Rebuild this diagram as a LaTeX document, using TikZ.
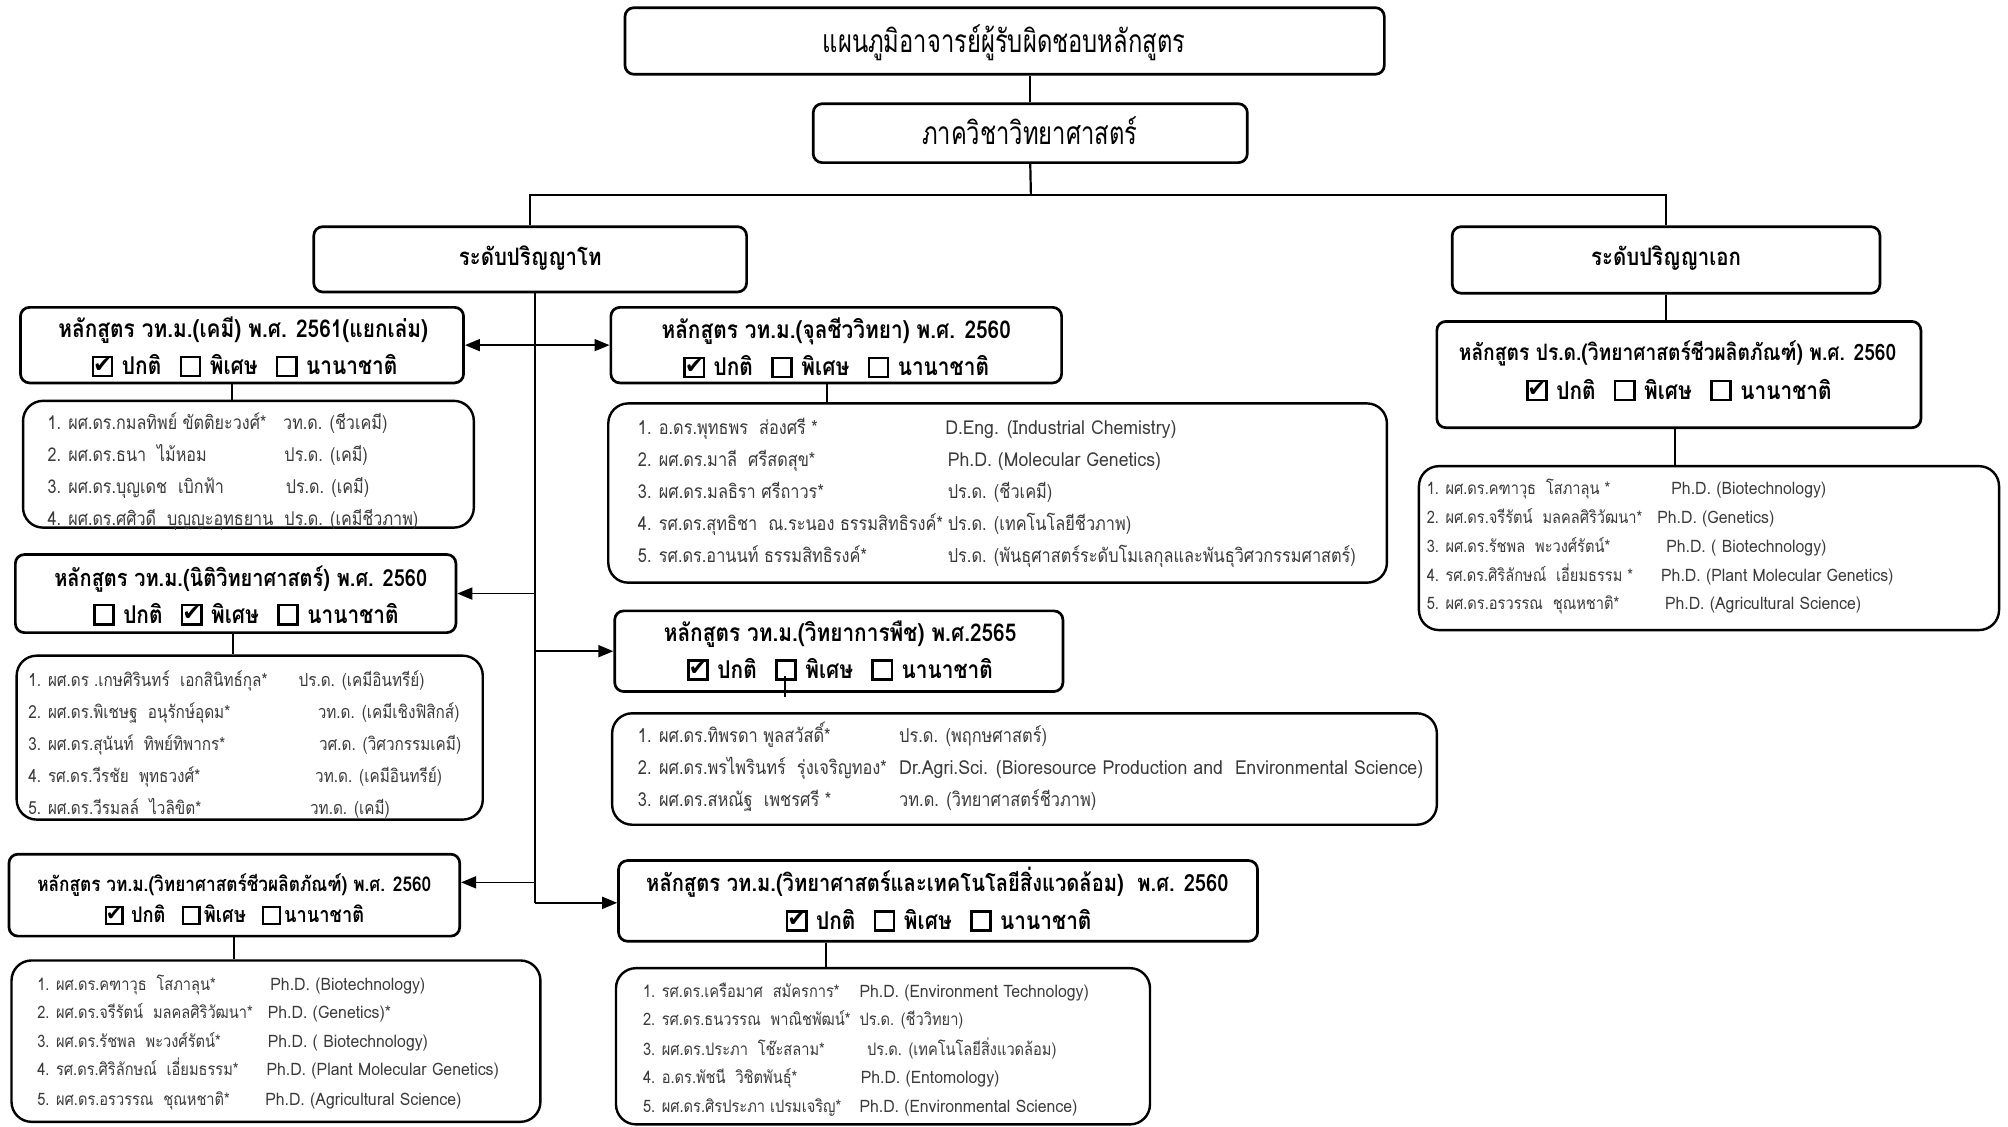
\documentclass[tikz,border=0pt]{standalone}
\usepackage{fontspec}
\usepackage{graphicx}
\usetikzlibrary{arrows.meta,fit}
\newfontfamily\thaiS[Script=Thai,FakeStretch=0.85]{Loma}
\newfontfamily\thaiT[Script=Thai,FakeStretch=0.75]{Loma}
\newfontfamily\latS[FakeStretch=0.92]{Loma}
\newfontfamily\symf{DejaVu Sans}
\definecolor{stf}{HTML}{3A3A3A}
\newcommand\boxsq{{\setlength\fboxrule{0.1em}\setlength\fboxsep{0pt}\fbox{\rule{0pt}{0.68em}\rule{0.68em}{0pt}}}}
\newcommand\cboff{\boxsq}
\newcommand\cbon{\rlap{\boxsq}\makebox[0.88em][c]{\raisebox{0.1em}{\symf\scalebox{0.92}{✔}}}}
\newcommand\fsTitle{\thaiT\fontsize{31.7}{34}\selectfont}
\newcommand\fsLevel{\thaiS\bfseries\fontsize{24}{28}\selectfont}
\newcommand\fsC[1]{\thaiS\bfseries\fontsize{#1}{#1}\selectfont}
\newcommand\fsS[1]{\thaiS\fontsize{#1}{#1}\selectfont}
\newcommand\csp{\hspace{0.35em}}
\newcommand\gap{\hspace{0.75em}}
\begin{document}
\begin{tikzpicture}[x=1.2806pt,y=-1.2806pt,
  cbox/.style={draw, line width=2.7pt, rounded corners=9pt, inner sep=0pt},
  sbox/.style={draw, line width=2.4pt, rounded corners=20pt, inner sep=0pt},
  conn/.style={line width=2.2pt},
  arr/.style={line width=1.7pt, -{Triangle[length=15pt,width=12pt]}},
  tx/.style={inner sep=0pt, text height=#1, text depth=0pt},
  tx/.default=18.4pt,
  st/.style={inner sep=0pt, text height=#1, text depth=0pt, anchor=west, text=stf},
  st/.default=14.4pt]
\useasboundingbox (0,0) rectangle (1568,879.3);

% top levels
\node[cbox, fit={(488,6)(1081,58)}] (title) {};
\node[tx=23.4pt, font=\fsTitle] (titleT) at (784,32) {แผนภูมิอาจารย์ผู้รับผิดชอบหลักสูตร};
\node[cbox, fit={(635,81)(974,127)}] (dept) {};
\node[tx=23.4pt, font=\fsTitle] (deptT) at (804,104) {ภาควิชาวิทยาศาสตร์};
\node[cbox, fit={(245,177)(583,228)}] (master) {};
\node[tx=17.8pt, font=\fsLevel] (masterT) at (414,200) {ระดับปริญญาโท};
\node[cbox, fit={(1134,177)(1468,229)}] (doctor) {};
\node[tx=17.8pt, font=\fsLevel] (doctorT) at (1301,200) {ระดับปริญญาเอก};

% course boxes
\node[cbox, fit={(16,240)(362,299)}] (L1) {};
\node[tx, font={\fsC{24.5}}] (L1t) at (190,256) {หลักสูตร วท.ม.(เคมี) พ.ศ. 2561(แยกเล่ม)};
\node[tx=19.4pt, font={\fsC{24.5}}] (L1c) at (191,285) {\cbon\csp ปกติ\gap\cboff\csp พิเศษ\gap\cboff\csp นานาชาติ};

\node[cbox, fit={(477,240)(829,299)}] (M1) {};
\node[tx, font={\fsC{24.5}}] (M1t) at (653,257) {หลักสูตร วท.ม.(จุลชีววิทยา) พ.ศ. 2560};
\node[tx=19.4pt, font={\fsC{24.5}}] (M1c) at (653,286) {\cbon\csp ปกติ\gap\cboff\csp พิเศษ\gap\cboff\csp นานาชาติ};

\node[cbox, fit={(12,433)(356,494)}] (L2) {};
\node[tx, font={\fsC{23.5}}] (L2t) at (188,451) {หลักสูตร วท.ม.(นิติวิทยาศาสตร์) พ.ศ. 2560};
\node[tx=19.4pt, font={\fsC{24.5}}] (L2c) at (192,479) {\cboff\csp ปกติ\gap\cbon\csp พิเศษ\gap\cboff\csp นานาชาติ};

\node[cbox, fit={(480,477)(830,540)}] (M2) {};
\node[tx, font={\fsC{24.5}}] (M2t) at (656,494) {หลักสูตร วท.ม.(วิทยาการพืช) พ.ศ.2565};
\node[tx=19.4pt, font={\fsC{24.5}}] (M2c) at (656,522) {\cbon\csp ปกติ\gap\cboff\csp พิเศษ\gap\cboff\csp นานาชาติ};

\node[cbox, fit={(7,667)(359,731)}] (L3) {};
\node[tx=15.2pt, font={\fsC{20.3}}] (L3t) at (183,690) {หลักสูตร วท.ม.(วิทยาศาสตร์ชีวผลิตภัณฑ์) พ.ศ. 2560};
\node[tx=17pt, font={\fsC{21.5}}] (L3c) at (183,714) {\cbon\csp ปกติ\gap\cboff\hspace{0.15em}พิเศษ\gap\cboff\hspace{0.15em}นานาชาติ};

\node[cbox, fit={(483,672)(982,735)}] (M3) {};
\node[tx, font={\fsC{23.7}}] (M3t) at (732,689) {หลักสูตร วท.ม.(วิทยาศาสตร์และเทคโนโลยีสิ่งแวดล้อม)\ \ พ.ศ. 2560};
\node[tx=19.4pt, font={\fsC{24.5}}] (M3c) at (733,718) {\cbon\csp ปกติ\gap\cboff\csp พิเศษ\gap\cboff\csp นานาชาติ};

\node[cbox, fit={(1122,251)(1500,334)}] (D1) {};
\node[tx=17pt, font={\fsC{22.6}}] (D1t) at (1310,275) {หลักสูตร ปร.ด.(วิทยาศาสตร์ชีวผลิตภัณฑ์) พ.ศ. 2560};
\node[tx=19.4pt, font={\fsC{24.5}}] (D1c) at (1311,304) {\cbon\csp ปกติ\gap\cboff\csp พิเศษ\gap\cboff\csp นานาชาติ};

% staff boxes
\node[sbox, fit={(18,313)(370,412)}] (L1s) {};
\node[st, font={\fsS{19}}] (L1a1) at (37,330) {1. ผศ.ดร.กมลทิพย์ ขัตติยะวงศ์*};
\node[st, font={\fsS{19}}] (L1b1) at (221,330) {วท.ด. (ชีวเคมี)};
\node[st, font={\fsS{19}}] (L1a2) at (37,355) {2. ผศ.ดร.ธนา\ \ ไม้หอม};
\node[st, font={\fsS{19}}] (L1b2) at (222,355) {ปร.ด. (เคมี)};
\node[st, font={\fsS{19}}] (L1a3) at (37,380) {3. ผศ.ดร.บุญเดช\ \ เบิกฟ้า};
\node[st, font={\fsS{19}}] (L1b3) at (223,380) {ปร.ด. (เคมี)};
\node[st, font={\fsS{19}}] (L1a4) at (37,405) {4. ผศ.ดร.ศศิวดี\ \ บุญญะอุทธยาน};
\node[st, font={\fsS{19}}] (L1b4) at (222,405) {ปร.ด. (เคมีชีวภาพ)};

\node[sbox, fit={(475,315)(1083,455)}] (M1s) {};
\node[st, font={\fsS{19.2}}] (M1a1) at (498,334) {1. อ.ดร.พุทธพร\ \ ส่องศรี *};
\node[st, font={\fsS{19.2}}] (M1b1) at (738,334) {\latS D.Eng. (Industrial Chemistry)};
\node[st, font={\fsS{19.2}}] (M1a2) at (498,359) {2. ผศ.ดร.มาลี\ \ ศรีสดสุข*};
\node[st, font={\fsS{19.2}}] (M1b2) at (740,359) {\latS Ph.D. (Molecular Genetics)};
\node[st, font={\fsS{19.2}}] (M1a3) at (498,384) {3. ผศ.ดร.มลธิรา ศรีถาวร*};
\node[st, font={\fsS{19.2}}] (M1b3) at (740,384) {ปร.ด. (ชีวเคมี)};
\node[st, font={\fsS{19.2}}] (M1a4) at (498,409) {4. รศ.ดร.สุทธิชา\ \ ณ.ระนอง ธรรมสิทธิรงค์*};
\node[st, font={\fsS{19.2}}] (M1b4) at (740,409) {ปร.ด. (เทคโนโลยีชีวภาพ)};
\node[st, font={\fsS{19.2}}] (M1a5) at (498,434) {5. รศ.ดร.อานนท์ ธรรมสิทธิรงค์*};
\node[st, font={\fsS{19.2}}] (M1b5) at (740,434) {ปร.ด. (พันธุศาสตร์ระดับโมเลกุลและพันธุวิศวกรรมศาสตร์)};

\node[sbox, fit={(13,512)(377,640)}] (L2s) {};
\node[st=13.7pt, font={\fsS{18}}] (L2a1) at (22,531) {1. ผศ.ดร .เกษศิรินทร์\ \ เอกสินิทธ์กุล*};
\node[st=13.7pt, font={\fsS{18}}] (L2b1) at (233,531) {ปร.ด. (เคมีอินทรีย์)};
\node[st=13.7pt, font={\fsS{18}}] (L2a2) at (22,556) {2. ผศ.ดร.พิเชษฐ\ \ อนุรักษ์อุดม*};
\node[st=13.7pt, font={\fsS{18}}] (L2b2) at (248,556) {วท.ด. (เคมีเชิงฟิสิกส์)};
\node[st=13.7pt, font={\fsS{18}}] (L2a3) at (22,581) {3. ผศ.ดร.สุนันท์\ \ ทิพย์ทิพากร*};
\node[st=13.7pt, font={\fsS{18}}] (L2b3) at (249,581) {วศ.ด. (วิศวกรรมเคมี)};
\node[st=13.7pt, font={\fsS{18}}] (L2a4) at (22,606) {4. รศ.ดร.วีรชัย\ \ พุทธวงศ์*};
\node[st=13.7pt, font={\fsS{18}}] (L2b4) at (246,606) {วท.ด. (เคมีอินทรีย์)};
\node[st=13.7pt, font={\fsS{18}}] (L2a5) at (22,631) {5. ผศ.ดร.วีรมลล์\ \ ไวลิขิต*};
\node[st=13.7pt, font={\fsS{18}}] (L2b5) at (242,631) {วท.ด. (เคมี)};

\node[sbox, fit={(478,557)(1122,644)}] (M2s) {};
\node[st, font={\fsS{19.3}}] (M2a1) at (498,574) {1. ผศ.ดร.ทิพรดา พูลสวัสดิ์*};
\node[st, font={\fsS{19.3}}] (M2b1) at (702,574) {ปร.ด. (พฤกษศาสตร์)};
\node[st, font={\fsS{19.3}}] (M2a2) at (498,599) {2. ผศ.ดร.พรไพรินทร์\ \ รุ่งเจริญทอง*};
\node[st, font={\fsS{19.3}}] (M2b2) at (702,599) {\latS Dr.Agri.Sci. (Bioresource Production and\ \ Environmental Science)};
\node[st, font={\fsS{19.3}}] (M2a3) at (498,624) {3. ผศ.ดร.สหณัฐ\ \ เพชรศรี *};
\node[st, font={\fsS{19.3}}] (M2b3) at (702,624) {วท.ด. (วิทยาศาสตร์ชีวภาพ)};

\node[sbox, fit={(9,750)(422,876)}] (L3s) {};
\node[st=13pt, font={\fsS{17.2}}] (L3a1) at (29,768) {1. ผศ.ดร.คฑาวุธ\ \ โสภาลุน*};
\node[st=13pt, font={\fsS{17.2}}] (L3b1) at (211,768) {\latS Ph.D. (Biotechnology)};
\node[st=13pt, font={\fsS{17.2}}] (L3a2) at (29,790) {2. ผศ.ดร.จรีรัตน์\ \ มลคลศิริวัฒนา*};
\node[st=13pt, font={\fsS{17.2}}] (L3b2) at (209,790) {\latS Ph.D. (Genetics)*};
\node[st=13pt, font={\fsS{17.2}}] (L3a3) at (29,813) {3. ผศ.ดร.รัชพล\ \ พะวงศ์รัตน์*};
\node[st=13pt, font={\fsS{17.2}}] (L3b3) at (209,813) {\latS Ph.D. ( Biotechnology)};
\node[st=13pt, font={\fsS{17.2}}] (L3a4) at (29,835) {4. รศ.ดร.ศิริลักษณ์\ \ เอี่ยมธรรม*};
\node[st=13pt, font={\fsS{17.2}}] (L3b4) at (208,835) {\latS Ph.D. (Plant Molecular Genetics)};
\node[st=13pt, font={\fsS{17.2}}] (L3a5) at (29,858) {5. ผศ.ดร.อรวรรณ\ \ ชุณหชาติ*};
\node[st=13pt, font={\fsS{17.2}}] (L3b5) at (207,858) {\latS Ph.D. (Agricultural Science)};

\node[sbox, fit={(481,756)(898,878)}] (M3s) {};
\node[st=13pt, font={\fsS{17.2}}] (M3a1) at (502,774) {1. รศ.ดร.เครือมาศ\ \ สมัครการ*};
\node[st=13pt, font={\fsS{17.2}}] (M3b1) at (671,774) {\latS Ph.D. (Environment Technology)};
\node[st=13pt, font={\fsS{17.2}}] (M3a2) at (502,796) {2. รศ.ดร.ธนวรรณ\ \ พาณิชพัฒน์*};
\node[st=13pt, font={\fsS{17.2}}] (M3b2) at (671,796) {ปร.ด. (ชีววิทยา)};
\node[st=13pt, font={\fsS{17.2}}] (M3a3) at (502,819) {3. ผศ.ดร.ประภา\ \ โช๊ะสลาม*};
\node[st=13pt, font={\fsS{17.2}}] (M3b3) at (677,819) {ปร.ด. (เทคโนโลยีสิ่งแวดล้อม)};
\node[st=13pt, font={\fsS{17.2}}] (M3a4) at (502,841) {4. อ.ดร.พัชนี\ \ วิชิตพันธุ์*};
\node[st=13pt, font={\fsS{17.2}}] (M3b4) at (672,841) {\latS Ph.D. (Entomology)};
\node[st=13pt, font={\fsS{17.2}}] (M3a5) at (502,864) {5. ผศ.ดร.ศิรประภา เปรมเจริญ*};
\node[st=13pt, font={\fsS{17.2}}] (M3b5) at (671,864) {\latS Ph.D. (Environmental Science)};

\node[sbox, fit={(1108,364)(1561,492)}] (Ds) {};
\node[st=13pt, font={\fsS{17.2}}] (Da1) at (1114,381) {1. ผศ.ดร.คฑาวุธ\ \ โสภาลุน *};
\node[st=13pt, font={\fsS{17.2}}] (Db1) at (1305,381) {\latS Ph.D. (Biotechnology)};
\node[st=13pt, font={\fsS{17.2}}] (Da2) at (1114,404) {2. ผศ.ดร.จรีรัตน์\ \ มลคลศิริวัฒนา*};
\node[st=13pt, font={\fsS{17.2}}] (Db2) at (1294,404) {\latS Ph.D. (Genetics)};
\node[st=13pt, font={\fsS{17.2}}] (Da3) at (1114,426) {3. ผศ.ดร.รัชพล\ \ พะวงศ์รัตน์*};
\node[st=13pt, font={\fsS{17.2}}] (Db3) at (1301,426) {\latS Ph.D. ( Biotechnology)};
\node[st=13pt, font={\fsS{17.2}}] (Da4) at (1114,449) {4. รศ.ดร.ศิริลักษณ์\ \ เอี่ยมธรรม *};
\node[st=13pt, font={\fsS{17.2}}] (Db4) at (1297,449) {\latS Ph.D. (Plant Molecular Genetics)};
\node[st=13pt, font={\fsS{17.2}}] (Da5) at (1114,471) {5. ผศ.ดร.อรวรรณ\ \ ชุณหชาติ*};
\node[st=13pt, font={\fsS{17.2}}] (Db5) at (1300,471) {\latS Ph.D. (Agricultural Science)};

% connectors
\coordinate (bus) at (805,152);
\coordinate (tk) at (418,705);
\coordinate (t3) at (418,689);
\draw[conn] (dept.north) -- (dept.north |- title.south);
\draw[conn] (dept.south) -- (bus);
\draw[conn] (master.north) |- (bus) -| (doctor.north);
\draw[conn] (master.south -| tk) -- (tk);
\draw[line width=1.7pt, {Triangle[length=15pt,width=12pt]}-{Triangle[length=15pt,width=12pt]}] (L1.east) -- (M1.west);
\draw[arr] (L2.east -| tk) -- (L2.east);
\draw[arr] (M2.west -| tk) -- (M2.west);
\draw[arr] (t3) -- (t3 -| L3.east);
\draw[arr] (tk) -- (tk -| M3.west);

\coordinate (xL1) at (181,0);
\coordinate (xM1) at (646,0);
\coordinate (xL2) at (182,0);
\coordinate (xL3) at (183,0);
\coordinate (xM3) at (645,0);
\coordinate (xD) at (1308,0);
\coordinate (m2a) at (613,528);
\coordinate (m2b) at (613,544);
\draw[conn] (L1.south -| xL1) -- (L1s.north -| xL1);
\draw[conn] (M1.south -| xM1) -- (M1s.north -| xM1);
\draw[conn] (L2.south -| xL2) -- (L2s.north -| xL2);
\draw[conn] (m2a) -- (m2b);
\draw[conn] (L3.south -| xL3) -- (L3s.north -| xL3);
\draw[conn] (M3.south -| xM3) -- (M3s.north -| xM3);
\draw[conn] (doctor.south) -- (doctor.south |- D1.north);
\draw[conn] (D1.south -| xD) -- (Ds.north -| xD);
\end{tikzpicture}
\end{document}
